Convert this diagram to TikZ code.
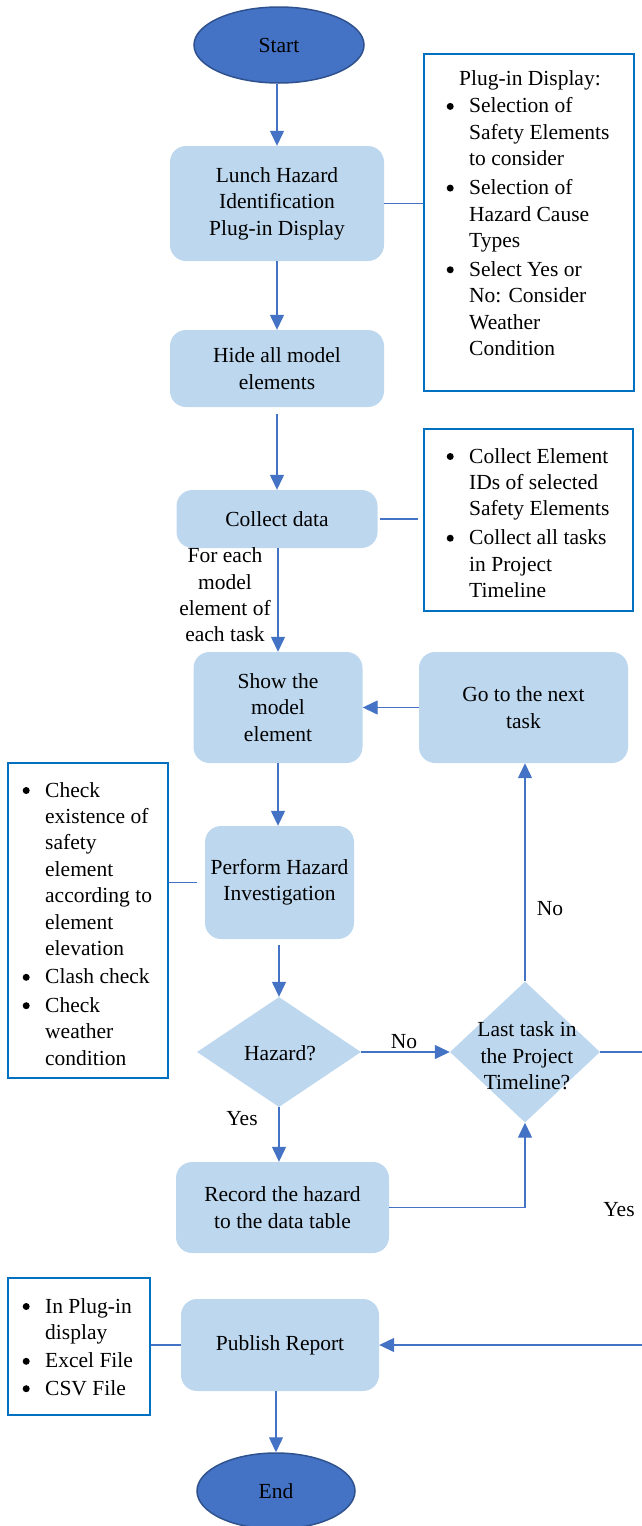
\documentclass[tikz,border=0pt]{standalone}
\usepackage{fontspec}
\setmainfont{Liberation Serif}
\usetikzlibrary{arrows.meta,shapes.geometric}
\definecolor{lb}{HTML}{BDD7EE}
\definecolor{acc}{HTML}{4472C4}
\definecolor{dk}{HTML}{2F528F}
\definecolor{bb}{HTML}{0070C0}
\newcommand{\mybul}{\makebox[38pt][c]{\tikz[baseline=0pt]\fill[black] (0pt,6.5pt) circle (3.5pt);}}
\begin{document}
\begin{tikzpicture}[x=1pt,y=-1pt,
  every node/.style={font=\fontsize{21.5}{26.4}\selectfont, inner sep=0pt},
  proc/.style={rectangle, rounded corners=16pt, fill=lb, align=center},
  term/.style={ellipse, fill=acc, draw=dk, line width=1.5pt},
  dec/.style={diamond, fill=lb},
  info/.style={rectangle, draw=bb, line width=2.6pt},
  conn/.style={draw=acc, line width=1.3pt},
  arr/.style={conn, -{Triangle[length=15pt,width=14pt]}},
  lbl/.style={anchor=base, align=center},
  lst/.style={anchor=base west}]
\useasboundingbox (0,0) rectangle (641,1526);

% terminals
\node[term, minimum width=170pt, minimum height=76pt] (start) at (279,45) {Start};
\node[term, minimum width=158pt, minimum height=76pt] (endn) at (276,1491) {End};

% process boxes
\node[proc, minimum width=214pt, minimum height=115pt] (lunch) at (277,203.5) {Lunch Hazard\\Identification\\Plug-in Display};
\node[proc, minimum width=214pt, minimum height=77pt] (hide) at (277,368.5) {Hide all model\\elements};
\node[proc, minimum width=201pt, minimum height=58pt] (collect) at (277,519) {Collect data};
\node[proc, minimum width=169pt, minimum height=111pt] (show) at (278,707.5) {Show the\\model\\element};
\node[proc, minimum width=209pt, minimum height=111pt] (go) at (523.5,707.5) {Go to the next\\task};
\node[proc, minimum width=149pt, minimum height=113pt] (perform) at (279.5,882.5) {Perform Hazard\\Investigation};
\node[proc, minimum width=213pt, minimum height=91pt] (rec) at (282.5,1207.5) {Record the hazard\\to the data table};
\node[proc, minimum width=198pt, minimum height=92pt] (pub) at (280,1345) {Publish Report};

% decisions
\node[dec, minimum width=164pt, minimum height=110pt] (hz) at (279,1052) {};
\node at (280,1053) {Hazard?};
\node[dec, minimum width=150pt, minimum height=141pt] (lt) at (525,1052) {};
\node[align=center] (lttxt) at (527,1056) {Last task in\\the Project\\Timeline?};

% info boxes
\node[info, minimum width=210pt, minimum height=337pt] (plug) at (529,222.5) {};
\node[lst] (plugtxt) at (431,85) {\begin{tabular}[t]{@{}l@{}l@{}}
\multicolumn{2}{@{}l@{}}{\hspace{28pt}Plug-in Display:}\\[1.5pt]
\mybul & Selection of\\
 & Safety Elements\\
 & to consider\\[2.5pt]
\mybul & Selection of\\
 & Hazard Cause\\
 & Types\\[2.5pt]
\mybul & Select Yes or\\
 & No: Consider\\
 & Weather\\
 & Condition
\end{tabular}};

\node[info, minimum width=209pt, minimum height=182pt] (box2) at (528.5,520) {};
\node[lst] (box2txt) at (431,463) {\begin{tabular}[t]{@{}l@{}l@{}}
\mybul & Collect Element\\
 & IDs of selected\\
 & Safety Elements\\[2.5pt]
\mybul & Collect all tasks\\
 & in Project\\
 & Timeline
\end{tabular}};

\node[info, minimum width=160pt, minimum height=315pt] (check) at (88,920.5) {};
\node[lst] (checktxt) at (7,797) {\begin{tabular}[t]{@{}l@{}l@{}}
\mybul & Check\\
 & existence of\\
 & safety\\
 & element\\
 & according to\\
 & element\\
 & elevation\\[2pt]
\mybul & Clash check\\[2pt]
\mybul & Check\\
 & weather\\
 & condition
\end{tabular}};

\node[info, minimum width=142pt, minimum height=137pt] (out) at (79,1346.5) {};
\node[lst] (outtxt) at (7,1313) {\begin{tabular}[t]{@{}l@{}l@{}}
\mybul & In Plug-in\\
 & display\\[2pt]
\mybul & Excel File\\[1pt]
\mybul & CSV File
\end{tabular}};

% labels
\node[align=center] (foreach) at (225,595) {For each\\model\\element of\\each task};
\node[lbl] (no1) at (404,1048) {No};
\node[lbl] (no2) at (550,915) {No};
\node[lbl] (yes1) at (242,1125) {Yes};
\node[lbl] (yes2) at (619,1216) {Yes};

\coordinate (redge) at (652,1200);

% connectors
\draw[arr] (start.south -| lunch.north) -- (lunch.north);
\draw[conn] (lunch.east) -- (plug.west |- lunch.east);
\draw[arr] (lunch.south) -- (hide.north);
\draw[arr, shorten <=7pt] (hide.south) -- (collect.north);
\draw[conn, shorten <=2pt, shorten >=5pt] (collect.east) -- (box2.west |- collect.east);
\draw[arr] (collect.south -| show.north) -- (show.north);
\draw[arr] (go.west) -- (show.east);
\draw[arr] (show.south) -- (show.south |- perform.north);
\draw[conn, shorten <=8pt] (perform.west) -- (perform.west -| check.east);
\draw[arr, shorten <=6pt] (perform.south -| hz.north) -- (hz.north);
\draw[arr] (hz.east) -- (lt.west);
\draw[arr] (lt.north) -- (lt.north |- go.south);
\draw[arr] (hz.south) -- (hz.south |- rec.north);
\draw[arr] (rec.east) -| (lt.south);
\draw[arr] (lt.east) -| (redge) |- (pub.east);
\draw[conn] (pub.west) -- (pub.west -| out.east);
\draw[arr] (pub.south -| endn.north) -- (endn.north);
\end{tikzpicture}
\end{document}
